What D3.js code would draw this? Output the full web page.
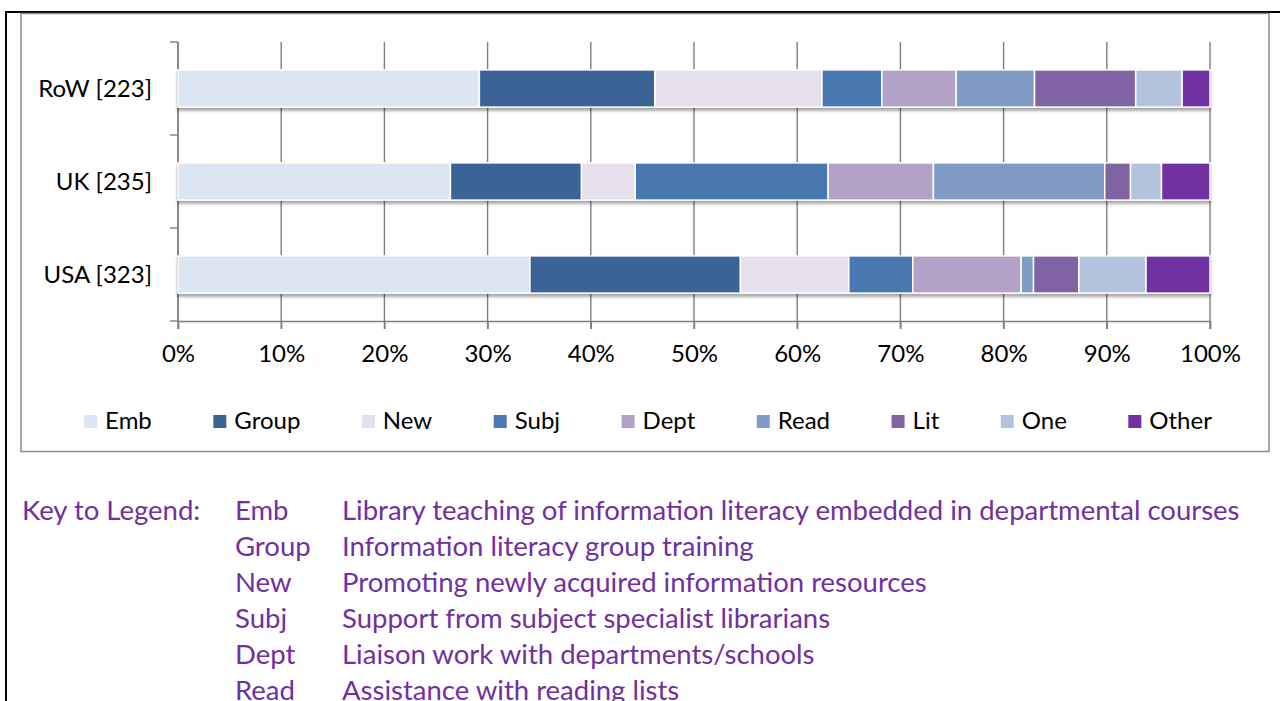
<!DOCTYPE html>
<html>
<head>
<meta charset="utf-8">
<script src="https://cdn.jsdelivr.net/npm/d3@7"></script>
<style>
  body { margin: 0; background: #fff; overflow: hidden; }
  text { font-family: Lato, "Open Sans", sans-serif; }
</style>
</head>
<body>
<div id="chart"></div>
<script>
// categories (respondent groups) and series
const categories = ["RoW [223]", "UK [235]", "USA [323]"];
const seriesNames = ["Emb", "Group", "New", "Subj", "Dept", "Read", "Lit", "One", "Other"];
const seriesColors = ["#dce6f2", "#3b6496", "#e6e0ec", "#4a78b0", "#b3a2c7", "#7f9bc6", "#8064a2", "#b4c3dd", "#7030a0"];

// percentage of responses, one value per category (RoW, UK, USA)
const emb   = [29.2, 26.4, 34.1];
const group = [17.0, 12.7, 20.4];
const newer = [16.2,  5.2, 10.5];
const subj  = [ 5.8, 18.7,  6.2];
const dept  = [ 7.2, 10.2, 10.5];
const read  = [ 7.6, 16.6,  1.2];
const lit   = [ 9.8,  2.5,  4.4];
const one   = [ 4.5,  3.0,  6.5];
const other = [ 2.7,  4.7,  6.2];

const xTicks = [0, 10, 20, 30, 40, 50, 60, 70, 80, 90, 100];

// key below the chart (only the rows that show on the page)
const keyCodes = ["Emb", "Group", "New", "Subj", "Dept", "Read"];
const keyText = [
  "Library teaching of information literacy embedded in departmental courses",
  "Information literacy group training",
  "Promoting newly acquired information resources",
  "Support from subject specialist librarians",
  "Liaison work with departments/schools",
  "Assistance with reading lists"
];

const seriesValues = [emb, group, newer, subj, dept, read, lit, one, other];
const rows = categories.map((c, i) => {
  const r = { cat: c };
  seriesNames.forEach((s, j) => r[s] = seriesValues[j][i]);
  return r;
});

const width = 1280, height = 701;
const fontSize = 24;
const svg = d3.select("#chart").append("svg")
    .attr("width", width)
    .attr("height", height);

const defs = svg.append("defs");
defs.append("filter")
    .attr("id", "shadow")
    .attr("x", "-5%").attr("y", "-30%").attr("width", "110%").attr("height", "170%")
  .append("feDropShadow")
    .attr("dx", 0).attr("dy", 3).attr("stdDeviation", 1.6)
    .attr("flood-color", "#000").attr("flood-opacity", 0.35);

// page lines (document table border) and chart frame
svg.append("line").attr("x1", 5).attr("x2", width).attr("y1", 12).attr("y2", 12)
    .attr("stroke", "#000").attr("stroke-width", 2);
svg.append("line").attr("x1", 6).attr("x2", 6).attr("y1", 11).attr("y2", height)
    .attr("stroke", "#000").attr("stroke-width", 2);
svg.append("rect").attr("x", 21).attr("y", 13.5).attr("width", 1248).attr("height", 438)
    .attr("fill", "none").attr("stroke", "#8c8c8c").attr("stroke-width", 1.5);

const x = d3.scaleLinear([0, 100], [178, 1210]);
const y = d3.scaleBand(categories, [42, 321]).paddingInner(0.6).paddingOuter(0.3);

const gridColor = "#7f7f7f";

// vertical gridlines with tick marks below the axis
svg.append("g")
  .selectAll("line")
  .data(xTicks)
  .join("line")
    .attr("x1", d => x(d)).attr("x2", d => x(d))
    .attr("y1", 42).attr("y2", 329)
    .attr("stroke", gridColor).attr("stroke-width", 1.4);

// y axis line and category boundary ticks
svg.append("line").attr("x1", x(0)).attr("x2", x(0)).attr("y1", 42).attr("y2", 321)
    .attr("stroke", gridColor).attr("stroke-width", 1.4);
const bounds = d3.range(categories.length + 1).map(i => 42 + i * y.step());
svg.append("g")
  .selectAll("line")
  .data(bounds)
  .join("line")
    .attr("x1", x(0) - 8).attr("x2", x(0))
    .attr("y1", d => d).attr("y2", d => d)
    .attr("stroke", gridColor).attr("stroke-width", 1.4);

// x axis
const xAxis = svg.append("g")
    .attr("transform", "translate(0,321)")
    .call(d3.axisBottom(x).tickValues(xTicks).tickFormat(d => d + "%").tickSize(8).tickPadding(16));
xAxis.select(".domain").attr("stroke", gridColor).attr("stroke-width", 1.4);
xAxis.selectAll(".tick line").attr("stroke", gridColor).attr("stroke-width", 1.4);
xAxis.selectAll(".tick text")
    .attr("font-family", "Lato, sans-serif")
    .attr("font-size", fontSize).attr("fill", "#000");

// y labels
svg.append("g")
  .selectAll("text")
  .data(categories)
  .join("text")
    .attr("x", 152)
    .attr("y", d => y(d) + y.bandwidth() / 2)
    .attr("dy", "0.36em")
    .attr("text-anchor", "end")
    .attr("font-size", fontSize)
    .attr("fill", "#000")
    .text(d => d);

// stacked bars
const stack = d3.stack().keys(seriesNames)(rows);
const color = d3.scaleOrdinal(seriesNames, seriesColors);

const barRows = svg.append("g")
  .selectAll("g")
  .data(categories)
  .join("g")
    .attr("filter", "url(#shadow)");

barRows.selectAll("rect")
  .data(c => stack.map(s => ({ key: s.key, seg: s.find(p => p.data.cat === c) })))
  .join("rect")
    .attr("x", d => x(d.seg[0]))
    .attr("y", d => y(d.seg.data.cat))
    .attr("width", d => x(d.seg[1]) - x(d.seg[0]))
    .attr("height", y.bandwidth())
    .attr("fill", d => color(d.key))
    .attr("stroke", "#fff")
    .attr("stroke-width", 1.5);

// legend, entries laid out one after another and centred in the frame
const legend = svg.append("g").attr("transform", "translate(0,429)");
const items = legend.selectAll("g")
  .data(seriesNames)
  .join("g");
items.append("rect")
    .attr("y", -14).attr("width", 13).attr("height", 13)
    .attr("fill", d => color(d));
items.append("text")
    .attr("x", 21)
    .attr("font-size", fontSize)
    .attr("fill", "#000")
    .text(d => d);
let cursor = 0;
const gap = 61.5;
items.each(function () {
  const g = d3.select(this);
  const w = g.select("text").node().getComputedTextLength();
  g.attr("transform", `translate(${cursor},0)`);
  cursor += 21 + w + gap;
});
const total = cursor - gap;
legend.attr("transform", `translate(${648 - total / 2},429)`);

// key to legend
const key = svg.append("g").attr("fill", "#7030a0").attr("font-size", 27.5);
key.append("text").attr("x", 22).attr("y", 520).text("Key to Legend:");
key.selectAll(".code")
  .data(keyCodes)
  .join("text")
    .attr("class", "code")
    .attr("x", 235)
    .attr("y", (d, i) => 520 + i * 36)
    .text(d => d);
key.selectAll(".desc")
  .data(keyText)
  .join("text")
    .attr("class", "desc")
    .attr("x", 342)
    .attr("y", (d, i) => 520 + i * 36)
    .text(d => d);
</script>
</body>
</html>
